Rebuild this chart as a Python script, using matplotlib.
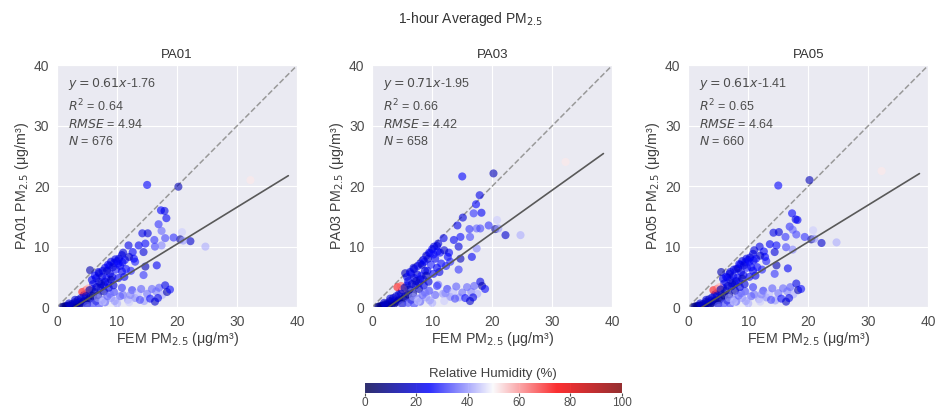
import numpy as np
import seaborn as sns
from matplotlib import pyplot as plt

# shared reference monitor values (FEM PM2.5) and relative humidity
fem = [15.0, 20.2, 17.3, 17.9, 18.2, 16.9, 17.4, 14.2, 15.1, 16.2, 20.8, 20.5, 22.2, 18.0, 19.4,
       24.7, 11.9, 13.6, 14.7, 16.3, 17.4, 12.6, 14.4, 10.8, 11.3, 13.0, 14.7, 16.6, 14.4, 5.5,
       6.9, 21.0, 8.0, 8.5, 9.0, 9.5, 10.0, 10.3, 9.8, 10.5, 8.8, 7.5, 7.0, 8.2, 9.2,
       10.8, 11.5, 12.3, 6.5, 6.0, 5.8, 6.2, 7.2, 7.8, 8.5, 5.0, 4.5, 4.2, 4.8, 5.2,
       3.5, 3.0, 2.5, 2.0, 1.5, 1.2, 1.8, 2.8, 3.3, 4.0, 4.5, 5.5, 6.0, 3.8, 2.2,
       5.0, 6.5, 7.0, 7.5, 8.0, 9.0, 9.5, 10.0, 11.0, 11.8, 12.5, 13.0, 13.5, 14.0, 14.5,
       15.0, 15.5, 16.3, 16.5, 17.0, 17.5, 18.0, 18.3, 18.8, 10.5, 12.0, 8.8, 32.2,
       5.8, 6.3, 7.0, 7.6, 8.3, 8.7, 9.3, 9.7, 10.2, 10.9, 9.0, 8.0, 7.3, 6.6, 5.4,
       4.8, 4.0, 3.2, 2.6, 1.6, 1.0, 2.4, 3.6, 4.3, 5.2, 6.8, 7.8, 8.6, 9.4, 10.2,
       11.2, 12.8, 11.0, 12.0, 5.0, 6.0, 6.8, 7.6, 8.4, 9.6, 10.8, 12.2, 13.8, 15.8, 16.8,
       3.0, 2.0]
rh = [25, 15, 25, 22, 24, 30, 35, 22, 20, 30, 45, 10, 18, 32, 30,
      42, 22, 24, 26, 32, 38, 25, 20, 22, 26, 28, 15, 24, 30, 14,
      20, 40, 22, 24, 20, 24, 25, 20, 28, 24, 22, 20, 24, 26, 22,
      24, 26, 28, 18, 22, 24, 16, 20, 24, 28, 20, 18, 72, 66, 58,
      12, 8, 10, 8, 6, 8, 12, 14, 16, 10, 14, 12, 8, 20, 18,
      8, 15, 32, 36, 34, 40, 32, 42, 36, 40, 30, 38, 44, 34, 40,
      36, 26, 18, 38, 34, 42, 22, 14, 26, 34, 45, 36, 52,
      22, 25, 20, 22, 18, 24, 20, 22, 26, 24, 15, 20, 16, 18, 14,
      18, 20, 14, 10, 12, 8, 15, 10, 14, 12, 12, 15, 22, 20, 24,
      22, 25, 20, 18, 35, 32, 40, 45, 35, 40, 30, 38, 32, 35, 22,
      20, 18]
pa01 = [20.2, 19.9, 16.0, 15.9, 14.7, 13.7, 12.6, 12.2, 12.2, 11.1, 12.4, 11.2, 10.9, 11.4, 11.5,
        10.0, 10.2, 10.2, 10.5, 10.0, 10.2, 9.1, 9.1, 8.6, 7.8, 7.5, 6.7, 6.9, 5.3, 6.1,
        5.8, 11.0, 6.5, 7.0, 7.5, 7.3, 7.6, 8.0, 6.2, 6.8, 5.5, 5.0, 4.2, 4.8, 5.0,
        5.9, 6.3, 6.0, 4.8, 3.8, 3.0, 2.5, 3.2, 3.6, 4.0, 2.4, 2.0, 2.5, 2.8, 3.1,
        1.2, 0.8, 0.5, 0.3, 0.2, 0.1, 0.1, 0.2, 0.4, 0.6, 1.0, 1.5, 1.8, 0.9, 0.1,
        0.5, 1.0, 0.4, 1.2, 0.8, 1.5, 2.5, 0.6, 2.0, 1.2, 2.8, 1.5, 2.3, 3.0, 1.0,
        2.2, 1.4, 0.9, 2.6, 3.2, 2.0, 3.6, 2.5, 2.9, 1.8, 0.8, 2.2, 21.0,
        4.5, 5.2, 5.6, 6.0, 6.0, 6.8, 6.6, 7.9, 7.2, 7.4, 4.5, 4.2, 3.8, 3.3, 2.8,
        1.8, 1.5, 0.6, 0.3, 0.1, 0.05, 0.2, 0.3, 0.8, 1.2, 2.0, 2.6, 3.2, 3.6, 4.8,
        5.0, 8.0, 9.0, 8.3, 0.2, 0.6, 1.5, 0.9, 1.8, 1.0, 3.2, 2.0, 1.2, 3.0, 1.5,
        1.2, 0.6]
pa03 = [21.6, 22.1, 17.0, 18.5, 15.6, 15.5, 13.0, 13.5, 14.8, 12.9, 14.4, 12.9, 11.9, 13.0, 13.5,
        11.9, 11.4, 11.1, 11.6, 11.6, 9.7, 8.3, 10.0, 10.1, 9.0, 7.5, 8.0, 8.3, 6.2, 5.6,
        6.5, 13.0, 7.2, 7.8, 8.5, 9.0, 9.6, 10.0, 7.0, 8.0, 6.0, 5.4, 4.8, 5.2, 6.0,
        6.5, 7.2, 6.8, 5.5, 4.3, 3.6, 2.9, 3.6, 4.0, 4.6, 2.8, 2.2, 3.3, 3.5, 2.9,
        1.5, 1.0, 0.6, 0.4, 0.2, 0.1, 0.2, 0.3, 0.5, 0.8, 1.2, 1.8, 2.1, 1.1, 0.2,
        0.6, 1.2, 0.5, 1.4, 0.9, 1.6, 2.7, 0.7, 3.7, 2.2, 3.0, 1.7, 2.5, 3.4, 1.6,
        2.4, 1.5, 1.0, 2.5, 3.5, 2.2, 4.2, 3.5, 3.0, 2.0, 1.0, 2.4, 24.0,
        5.0, 5.8, 6.3, 6.8, 7.0, 7.5, 8.0, 8.9, 8.7, 9.2, 5.2, 4.6, 4.3, 3.8, 3.2,
        2.2, 1.8, 0.8, 0.4, 0.1, 0.05, 0.2, 0.4, 1.0, 1.4, 2.3, 3.0, 3.6, 4.2, 5.5,
        5.8, 9.0, 10.5, 9.4, 0.3, 0.7, 1.7, 1.0, 2.0, 1.1, 3.5, 2.3, 1.4, 3.3, 1.6,
        1.4, 0.7]
pa05 = [20.1, 21.0, 15.5, 14.5, 14.4, 13.3, 12.8, 12.3, 12.4, 11.6, 12.7, 11.2, 10.6, 12.0, 11.6,
        10.7, 10.0, 10.4, 10.2, 9.9, 9.5, 9.2, 9.1, 8.8, 8.0, 7.6, 6.9, 6.4, 5.5, 5.8,
        5.5, 11.3, 6.3, 7.1, 7.6, 7.4, 7.8, 8.2, 6.5, 6.6, 5.8, 5.1, 4.5, 4.9, 5.3,
        6.0, 6.6, 6.2, 4.9, 3.9, 3.2, 2.7, 3.4, 3.8, 4.2, 2.6, 2.1, 2.8, 3.0, 3.3,
        1.3, 0.9, 0.5, 0.3, 0.2, 0.1, 0.2, 0.3, 0.4, 0.7, 1.1, 1.6, 1.9, 1.0, 0.1,
        0.5, 1.1, 0.5, 1.3, 0.9, 1.5, 2.6, 0.6, 2.1, 1.3, 2.7, 1.6, 2.2, 3.1, 1.1,
        2.3, 1.4, 0.9, 2.6, 3.3, 2.1, 3.9, 2.8, 3.0, 1.8, 0.9, 2.3, 22.5,
        4.7, 5.0, 5.8, 6.2, 6.4, 7.0, 6.9, 8.0, 7.5, 7.7, 4.7, 4.3, 3.9, 3.5, 2.9,
        1.9, 1.6, 0.7, 0.3, 0.1, 0.05, 0.2, 0.3, 0.9, 1.2, 2.1, 2.7, 3.3, 3.8, 5.0,
        5.2, 8.3, 9.4, 8.5, 0.2, 0.6, 1.5, 0.9, 1.9, 1.0, 3.3, 2.1, 1.2, 3.1, 1.5,
        1.2, 0.6]

sensors = ["PA01", "PA03", "PA05"]
pa_values = [pa01, pa03, pa05]
slopes = [0.61, 0.71, 0.61]
intercepts = [-1.76, -1.95, -1.41]
r2 = [0.64, 0.66, 0.65]
rmse = [4.94, 4.42, 4.64]
counts = [676, 658, 660]

sns.set_style("darkgrid")
plt.rcParams["font.family"] = ["Liberation Sans", "DejaVu Sans"]

fig = plt.figure(figsize=(9.35, 4.15), dpi=100)
lefts = [0.061, 0.398, 0.736]
axes = [fig.add_axes([l, 0.26, 0.257, 0.583]) for l in lefts]

for ax, name, ys, m, b, r, e, n in zip(axes, sensors, pa_values, slopes, intercepts, r2, rmse, counts):
    sc = ax.scatter(fem, ys, c=rh, cmap="seismic", vmin=0, vmax=100,
                    s=34, alpha=0.6, linewidths=0, zorder=3)
    ax.plot([0, 40], [0, 40], ls="--", color="0.6", lw=1.1, zorder=2)
    xl = np.linspace(0, 38.5, 50)
    ax.plot(xl, m * xl + b, color="0.35", lw=1.2, zorder=4)
    ax.set_xlim(0, 40)
    ax.set_ylim(0, 40)
    ax.set_xticks([0, 10, 20, 30, 40])
    ax.set_yticks([0, 10, 20, 30, 40])
    ax.tick_params(labelsize=10, pad=2, colors="0.3")
    ax.set_title(name, fontsize=9.5, pad=5, color="0.2")
    ax.set_xlabel("FEM PM$_{2.5}$ (μg/m³)", fontsize=10.3, labelpad=1, color="0.25")
    ax.set_ylabel(f"{name} PM$_{{2.5}}$ (μg/m³)", fontsize=10.3, labelpad=2, color="0.25")
    txt = (f"$y = {m:.2f}x$-{abs(b):.2f}\n$R^2$ = {r:.2f}\n"
           f"$RMSE$ = {e:.2f}\n$N$ = {n}")
    ax.text(0.045, 0.955, txt, transform=ax.transAxes, va="top", ha="left",
            fontsize=9, color="0.3", linespacing=1.4, zorder=5)

fig.suptitle("1-hour Averaged PM$_{2.5}$", x=0.503, y=0.975, fontsize=10, color="0.2")

cax = fig.add_axes([0.390, 0.053, 0.275, 0.024])
cb = fig.colorbar(sc, cax=cax, orientation="horizontal")
cb.solids.set_alpha(0.8)
cb.outline.set_visible(False)
cb.set_ticks([0, 20, 40, 60, 80, 100])
cax.tick_params(labelsize=8.5, length=2, pad=1, colors="0.3")
cax.set_title("Relative Humidity (%)", fontsize=9.5, pad=4, color="0.25")

fig.savefig("out.png", dpi=100)
